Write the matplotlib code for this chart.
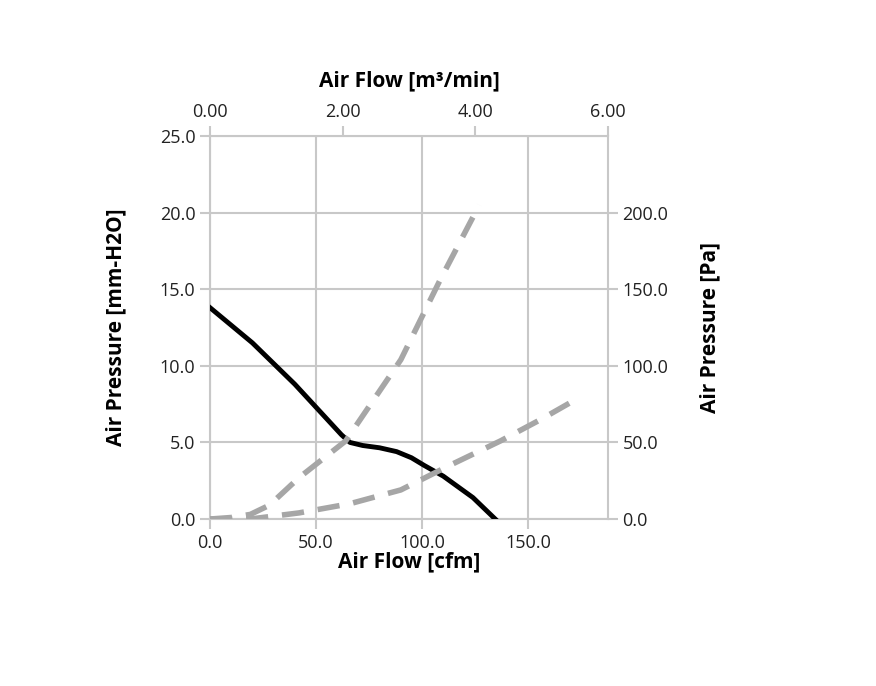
import matplotlib
matplotlib.use("Agg")
import matplotlib.pyplot as plt
import numpy as np
from matplotlib.ticker import FuncFormatter

plt.rcParams['font.family'] = ['Open Sans', 'DejaVu Sans']

pq_flow = [0, 20, 40, 50, 58, 62, 66, 72, 80, 88, 95, 101, 110, 118, 124, 130, 134.5]
pq_press = [13.8, 11.5, 8.8, 7.3, 6.1, 5.5, 5.0, 4.8, 4.65, 4.4, 4.0, 3.5, 2.8, 2.0, 1.4, 0.6, 0.0]

imp1_flow = [0, 10, 19, 28, 42, 64, 90, 108.5, 127]
imp1_pa = [0, 1, 3, 9, 27, 51, 104, 156, 205]

imp2_flow = [0, 19, 42, 66, 90, 113, 137, 156, 175]
imp2_pa = [0, 0, 4, 10, 19, 35, 51, 65, 80]

grey = '#c8c8c8'
fig = plt.figure(figsize=(8.76, 6.86), dpi=100)
ax = fig.add_axes([0.2397, 0.2434, 0.6941 - 0.2397, 0.8017 - 0.2434])
ax.set_xlim(0, 187.7)
ax.set_ylim(0, 25)
ax.set_xticks([0, 50, 100, 150])
ax.set_yticks(np.arange(0, 26, 5))
ax.grid(True, color=grey, lw=1.5)
ax.set_axisbelow(True)
for s in ax.spines.values():
    s.set_color(grey); s.set_linewidth(1.5)
fmt1 = FuncFormatter(lambda v, p: f"{v:.1f}")
ax.xaxis.set_major_formatter(fmt1)
ax.yaxis.set_major_formatter(fmt1)
ax.tick_params(colors=grey, labelcolor='#222222', labelsize=13, length=7, width=1.5)
ax.plot(pq_flow, pq_press, color='black', lw=3.5, zorder=5)
ax.set_xlabel('Air Flow [cfm]', fontsize=15, fontweight='bold', labelpad=0)
ax.set_ylabel('Air Pressure [mm-H2O]', fontsize=15, fontweight='bold', labelpad=24)

axr = ax.twinx()
axr.set_ylim(0, 250)
axr.set_yticks([0, 50, 100, 150, 200])
axr.yaxis.set_major_formatter(fmt1)
axr.tick_params(colors=grey, labelcolor='#222222', labelsize=13, length=7, width=1.5)
for s in axr.spines.values():
    s.set_visible(False)
axr.plot(imp1_flow, imp1_pa, color='#a6a6a6', lw=4, dashes=(4, 2.5), zorder=4)
axr.plot(imp2_flow, imp2_pa, color='#a6a6a6', lw=4, dashes=(4, 2.5), zorder=4)
axr.set_ylabel('Air Pressure [Pa]', fontsize=15, fontweight='bold', labelpad=22)

axt = ax.twiny()
axt.set_xlim(0, 6)
axt.set_xticks([0, 2, 4, 6])
axt.xaxis.set_major_formatter(FuncFormatter(lambda v, p: f"{v:.2f}"))
axt.tick_params(colors=grey, labelcolor='#222222', labelsize=13, length=7, width=1.5)
for s in axt.spines.values():
    s.set_visible(False)
axt.set_xlabel('Air Flow [m³/min]', fontsize=15, fontweight='bold', labelpad=12)

fig.savefig('out.png', dpi=100)
